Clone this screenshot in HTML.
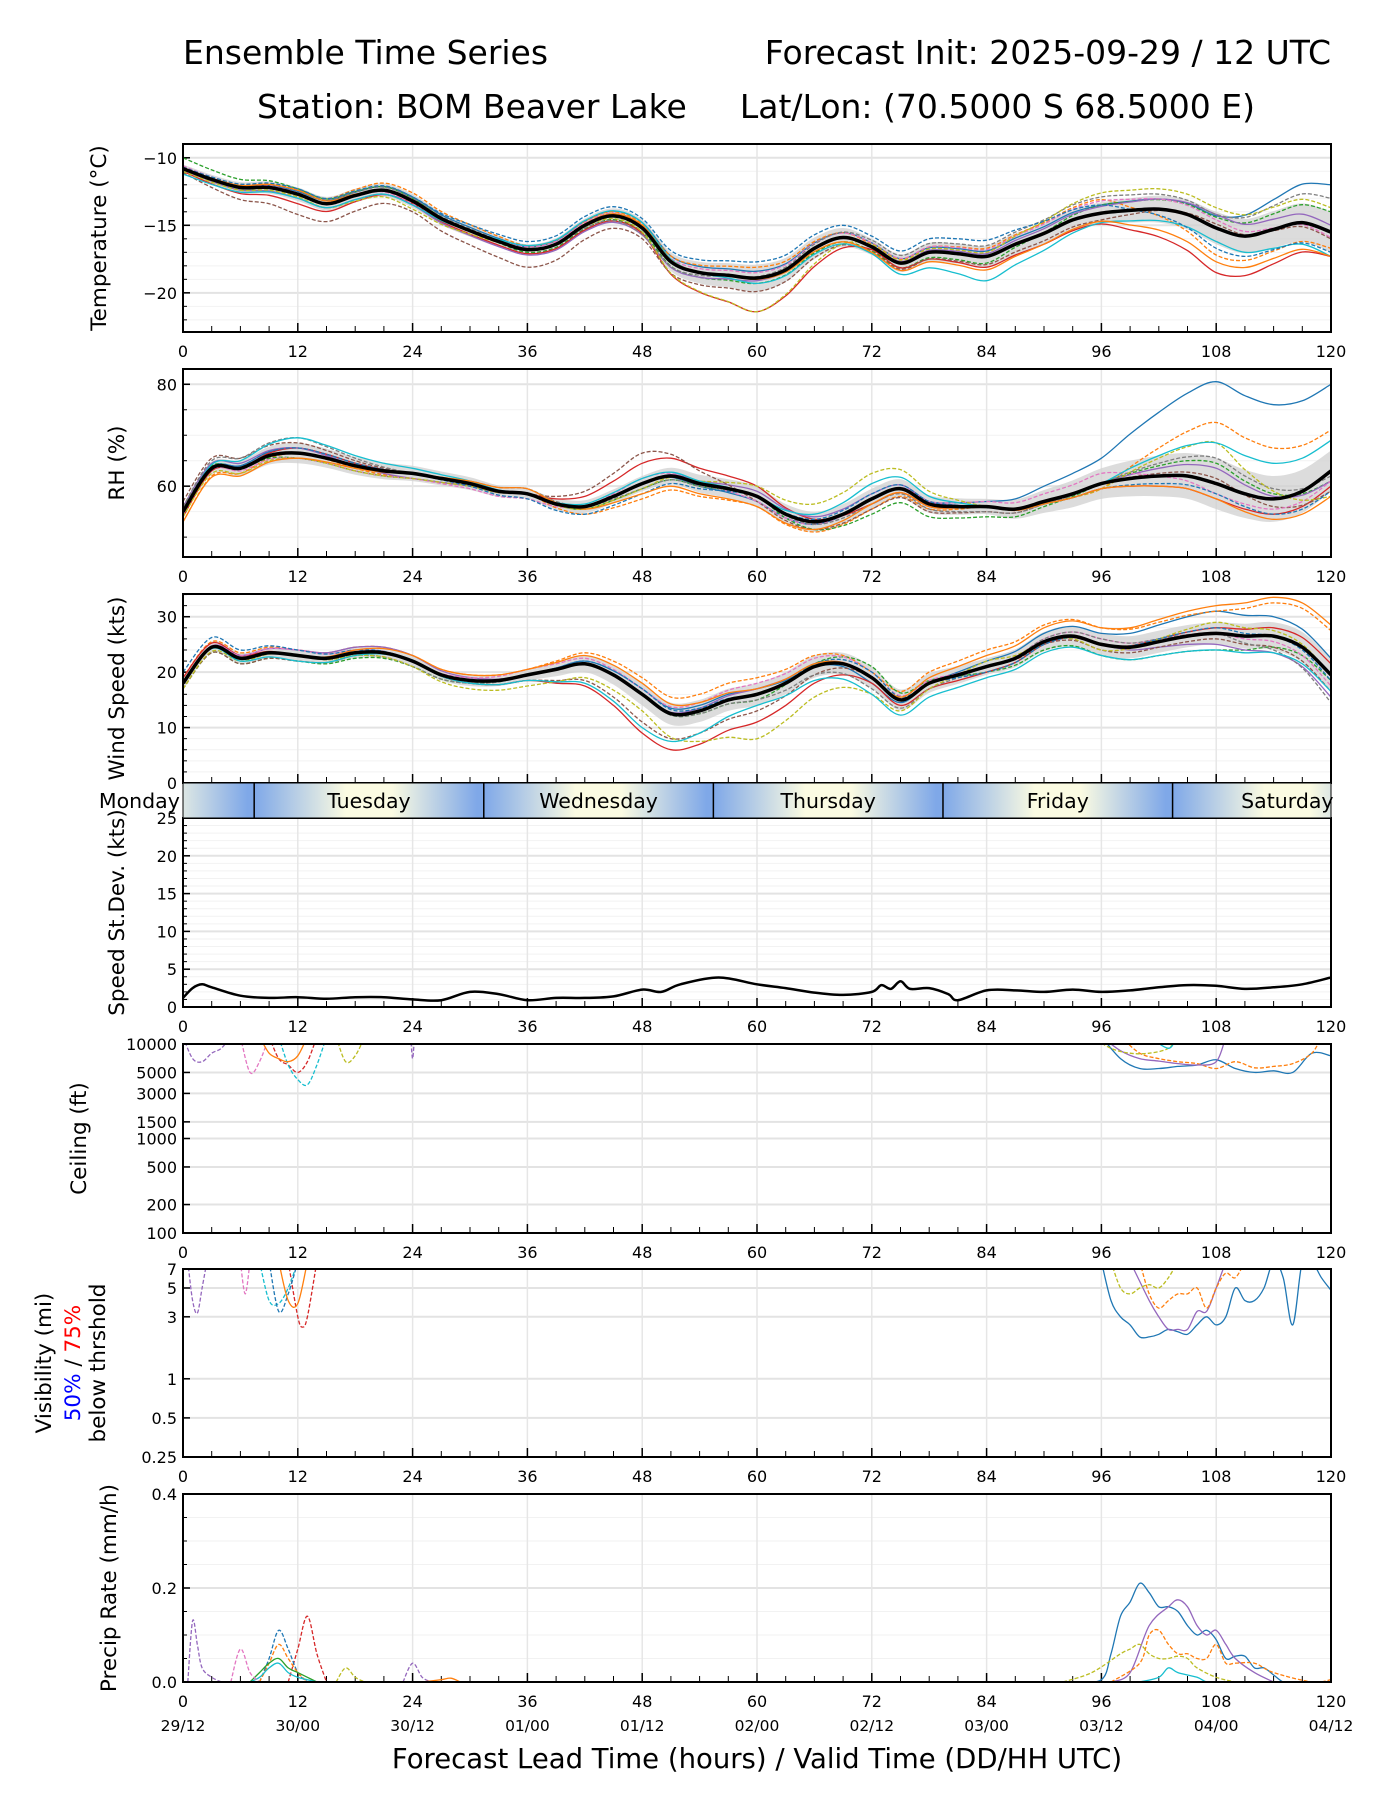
<!DOCTYPE html>
<html><head><meta charset="utf-8">
<style>
html,body{margin:0;padding:0;background:#fff;}
svg{display:block;font-family:"DejaVu Sans","Liberation Sans",sans-serif;}
</style></head>
<body>
<svg id="chart" xmlns="http://www.w3.org/2000/svg" width="1400" height="1800" viewBox="0 0 1400 1800">
<rect width="1400" height="1800" fill="#fff"/>
<text x="183" y="64" font-size="33">Ensemble Time Series</text>
<text x="1331" y="64" font-size="33" text-anchor="end">Forecast Init: 2025-09-29 / 12 UTC</text>
<text x="257" y="118" font-size="33">Station: BOM Beaver Lake</text>
<text x="1255" y="118" font-size="33" text-anchor="end">Lat/Lon: (70.5000 S 68.5000 E)</text>
<text x="757" y="1768" font-size="27.5" text-anchor="middle">Forecast Lead Time (hours) / Valid Time (DD/HH UTC)</text>
<g id="plots"></g>
</svg>
<script>
// ---------- data ----------
const hours3 = Array.from({length:41},(_,i)=>i*3);
const knotHours = [0,12,24,36,48,60,72,84,96,108,120];
const tempMean = [-10.8,-11.6,-12.2,-12.2,-12.7,-13.4,-12.8,-12.4,-13.2,-14.5,-15.4,-16.2,-16.8,-16.4,-15.0,-14.3,-15.2,-17.7,-18.5,-18.7,-18.9,-18.3,-16.7,-15.9,-16.6,-17.8,-17.0,-17.1,-17.3,-16.4,-15.6,-14.6,-14.1,-13.9,-13.8,-14.2,-15.2,-15.8,-15.3,-14.8,-15.5];
const tempSpread = [0.3,0.5,0.5,0.4,0.6,1.0,0.6,0.8,0.8,1.2,1.5];
const tempOff = [
[0,.2,.3,.2,.4,.5,.3,.4,.6,.9,3.5],
[.1,.3,.6,.3,.3,.8,.2,.6,1.0,-2,-1.2],
[.8,.4,.2,-.2,-.3,-.4,-.3,-.5,.6,.8,1.5],
[-.2,-.7,-.2,-.3,-.4,-2.5,-.2,-.8,-.8,-3.3,-1.8],
[-.1,-.3,-.3,-.4,-.5,-.2,.1,.2,.5,1.0,.5],
[-.3,-1.5,-.8,-1.3,-.8,-1.0,-.4,-.6,-.5,.3,-.5],
[.2,.1,-.2,.2,.2,.4,.3,.5,.9,.6,-.4],
[.1,.3,.2,.1,-.5,.1,.5,.8,1.2,1.0,2.5],
[-.2,-.2,-.6,.1,-.3,-2.5,.2,.3,1.5,1.5,1.8],
[-.4,-.3,-.3,.3,.4,-.4,-.5,-1.8,-.7,-1.0,-1.8],
[.1,.4,.3,.6,.7,1.2,.8,1.2,.6,-1.5,-1.5],
[0,.3,-.1,0,.2,-.1,-.4,-1.0,-.6,-2.5,-1.8]];
const rhMean = [55,63.5,63.5,66,66.5,65.5,64,63,62.5,61.5,60.5,59,58.5,56.5,56,58,60.5,62,60.5,59.5,58,54.5,53,54.5,57.5,59.5,56.5,56,56,55.5,57,58.5,60.5,61.5,62,62,60.5,58.5,57.5,59,63];
const rhSpread = [1,2,1.5,1,1.5,2,2,1.5,3,5,4];
const rhOff = [
[0,1,0,0,0,-1,0,1,5,20,17],
[-2,0,-1,0,-3,-2,-2,0,-1,12,8],
[1,-1,-1,0,-1,0,-3,-2,0,4,-2],
[-1,1,0,0,4,2,-1,0,-1,-3,-3],
[1,1,-1,0,0,1,1,0,0,3,-2],
[2,2,0,0,6,-1,-2,-1,0,1,-4],
[0,-1,-1,-1,1,-1,0,1,2,-2,-2],
[1,3,0,1,-1,0,-1,-1,0,5,-1],
[-1,-1,-1,0,-1,2,5,0,-1,8,-5],
[0,3,1,0,1,0,3,0,0,8,6],
[0,1,0,-1,-2,0,1,0,-1,-2,-4],
[-2,-1,0,1,-2,-2,-1,0,-1,-3,-5]];
const windMean = [18,24.5,22.5,23.5,23,22.5,23.5,23.5,22,19.5,18.5,18.5,19.5,20.5,21.5,19.5,16,12.5,13,15,16,18,21,21.5,19,15,18,19.5,21,22.5,25.5,26.5,25,24.5,25.5,26.5,27,26.5,26.5,24.5,19.5];
const windSpread = [1,1,1,1,2,2,2,1.5,2,2,3];
const windOff = [
[0,0,0,0,1,1,-1,1,2,4,3],
[1,1,1,1,3,3,1,3,3,4,8],
[-1,-1,-1,0,0,-1,2,-1,-2,-3,-1],
[1,0,0,-1,-7,-5,-1,-1,0,1,2],
[0,1,1,0,0,1,0,0,0,-2,-4],
[-1,-1,0,-1,-5,-3,0,0,-1,-1,-3],
[0,1,0,1,1,2,1,0,1,0,-2],
[0,0,-1,0,0,-1,-2,0,1,0,-5],
[-1,0,-1,-2,-3,-8,-3,1,-1,2,0],
[0,-1,0,-1,-6,-2,-3,-2,-2,-3,-3],
[2,1,0,0,1,0,1,-1,0,1,-1],
[0,0,1,1,2,1,0,2,3,5,9]];
const sdHours = [0,1,2,3,6,9,12,15,18,21,24,27,30,33,36,39,42,45,48,50,52,56,60,63,66,69,72,73,74,75,76,78,80,81,84,87,90,93,96,99,102,105,108,111,114,117,120];
const sdVals = [1.2,2.5,3,2.6,1.5,1.2,1.3,1.1,1.3,1.3,1.0,0.9,2.0,1.7,0.9,1.2,1.2,1.4,2.3,2.0,3.0,3.9,3.0,2.5,1.9,1.6,2.0,2.9,2.4,3.4,2.4,2.5,1.7,0.9,2.2,2.2,2.0,2.3,2.0,2.2,2.6,2.9,2.8,2.4,2.6,3.0,3.9];
const ceilHours = [[0,1,2,3,4,5],[9,10,11,12,13,14],[10,11,12,13,14,15],[6,7,8,9],[8,9,10,11,12,13],[16,17,18,19],[23.8,24,24.2],
[96,98,100,102,104,106,108,110,112,114,116,118,120],[98,100,102,104,106,108,110,112,114,116,118,119],[96,98,100,102,104,106,108,109],[95,97,99,101,103,104],[101,103,104,105]];
const ceilVals = [[12000,7000,6500,8000,9000,12000],[12000,7000,6000,5000,6500,12000],[12000,6000,4200,3700,6000,12000],[12000,5000,6500,12000],[12000,8000,7000,6500,7500,12000],[12000,6500,7500,12000],[12000,7000,12000],
[12000,7000,5500,5500,5800,6000,6800,5500,5000,5200,5000,8000,7500],[12000,8000,7000,6500,6200,5500,6500,5600,5800,6200,8000,12000],[12000,8500,7000,6600,6200,6000,6500,12000],[12000,9000,8000,8000,9000,12000],[12000,9000,12000,12000]];
const ceilStyle = [[4,1],[3,1],[9,1],[6,1],[1,0],[8,1],[4,1],[0,0],[1,1],[4,0],[8,1],[9,0]];
const visHours = [[0.5,1,1.5,2,2.5],[11,12,12.5,13,14],[8,9,10,11,12],[9,10,11,12],[6,6.5,7],[10,11,12,13],
[96,97,98,99,100,101,102,103,104,105,106,107,108,109,110,111,112,113,114,115,116,117,118,119,120],[99,101,102,103,104,105,106,107,108,109],[97,98,99,100,101,102,103,104],[100,101,102,103,104,105,106,107,108,109,110,111]];
const visVals = [[8,4,3.2,5,8],[8,3,2.5,3,8],[8,4,3.8,5,8],[8,3.3,4.5,8],[8,4.5,8],[8,4,3.8,8],
[8,4,3,2.6,2.1,2.1,2.2,2.4,2.3,2.2,2.6,3,2.6,3,5,4,4,5,8,6,2.6,8,8,6,4.8],[8,4,3,2.4,2.4,2.4,3.3,3.3,5,8],[8,5,4.5,5,5.3,5,6,8],[8,4.5,3.5,4,4.5,4.5,5,3.5,5,6.5,6,8]];
const visStyle = [[4,1],[3,1],[9,1],[0,1],[6,1],[1,0],[0,0],[4,0],[8,1],[1,1]];
const prHours = [[0.5,1,1.5,2,3,4],[11,12,13,14,15],[8,9,10,11,12,13],[8,9,10,11,12,13],[7,8,9,10,11,12,13,14],[7,8,9,10,11,12,13,14],[5,6,7,8],[16,17,18,19],[23,24,25,26],[25,27,28,29],
[93,96,97,98,99,100,101,102,103,104,105,106,107,108,109,110,111,112,113,114,115,116],[97,99,101,103,104,105,106,107,108,109,110,112,114],[97,100,101,102,103,104,105,106,107,108,109,110,112,114,118,120],[92,95,98,99,100,101,102,103,104,105,106,108,110],[100,102,103,104,106,107,108]];
const prVals = [[0,.13,.08,.03,.01,0],[0,.07,.14,.06,0],[0,.05,.11,.07,.02,0],[0,.04,.08,.05,.02,0],[0,.02,.04,.05,.03,.02,.01,0],[0,.01,.03,.04,.02,.01,.005,0],[0,.07,.02,0],[0,.03,.01,0],[0,.04,.01,0],[0,.005,.008,0],
[0,.005,.06,.14,.17,.21,.19,.16,.16,.15,.12,.1,.11,.09,.05,.055,.055,.03,.03,.015,0,0],[0,.02,.12,.16,.175,.16,.12,.1,.11,.08,.05,.02,0],[0,.04,.1,.11,.08,.06,.06,.05,.05,.08,.04,.04,.04,.02,0,.005],[0,.02,.06,.07,.08,.06,.05,.05,.055,.05,.03,.01,0],[0,.01,.03,.02,.01,0,0]];
const prStyle = [[4,1],[3,1],[0,1],[1,1],[2,0],[9,0],[6,1],[8,1],[4,1],[1,0],[0,0],[4,0],[1,1],[8,1],[9,0]];
const dayNames = ["Monday","Tuesday","Wednesday","Thursday","Friday","Saturday"];
const dateLabels = ["29/12","30/00","30/12","01/00","01/12","02/00","02/12","03/00","03/12","04/00","04/12"];
const xTicks = [0,12,24,36,48,60,72,84,96,108,120];

// ---------- helpers ----------
const NS="http://www.w3.org/2000/svg";
const COLORS=["#1f77b4","#ff7f0e","#2ca02c","#d62728","#9467bd","#8c564b","#e377c2","#7f7f7f","#bcbd22","#17becf"];
const memberStyle=[[0,0],[1,1],[2,1],[3,0],[4,0],[5,1],[6,1],[7,1],[8,1],[9,0],[0,1],[1,0]];
const X0=183,X1=1331;
const root=document.getElementById('plots');
function xs(h){return X0+(h/120)*(X1-X0);}
function mk(tag,attrs,parent){const e=document.createElementNS(NS,tag);for(const k in attrs)e.setAttribute(k,attrs[k]);(parent||root).appendChild(e);return e;}
function scaleY(p,v){
  if(p.log){return p.bot-(Math.log(v)-Math.log(p.min))/(Math.log(p.max)-Math.log(p.min))*(p.bot-p.top);}
  return p.bot-(v-p.min)/(p.max-p.min)*(p.bot-p.top);
}
function smoothPath(pts){
  if(pts.length<2)return "";
  let d="M"+pts[0][0].toFixed(1)+","+pts[0][1].toFixed(1);
  for(let i=0;i<pts.length-1;i++){
    const p0=pts[Math.max(0,i-1)],p1=pts[i],p2=pts[i+1],p3=pts[Math.min(pts.length-1,i+2)];
    const c1x=p1[0]+(p2[0]-p0[0])/6,c1y=p1[1]+(p2[1]-p0[1])/6;
    const c2x=p2[0]-(p3[0]-p1[0])/6,c2y=p2[1]-(p3[1]-p1[1])/6;
    d+="C"+c1x.toFixed(1)+","+c1y.toFixed(1)+" "+c2x.toFixed(1)+","+c2y.toFixed(1)+" "+p2[0].toFixed(1)+","+p2[1].toFixed(1);
  }
  return d;
}
function knotAt(arr,h){const k=h/12,i=Math.min(9,Math.floor(k)),f=k-i;return arr[i]*(1-f)+arr[i+1]*f;}

const panels=[
 {name:"temperature",top:144,bot:332,min:-22.9,max:-8.98,major:[-10,-15,-20],minorStep:1,label:"Temperature (°C)",lx:106,fmt:v=>String(v).replace("-","\u2212")},
 {name:"rh",top:369,bot:557,min:46.1,max:83.0,major:[60,80],minorStep:5,label:"RH (%)",lx:124,fmt:v=>String(v)},
 {name:"wind",top:594,bot:783,min:0,max:34.1,major:[0,10,20,30],minorStep:2,label:"Wind Speed (kts)",lx:124,fmt:v=>String(v),noX:true},
 {name:"speed-stdev",top:818,bot:1007,min:0,max:25,major:[0,5,10,15,20,25],minorStep:1,label:"Speed St.Dev. (kts)",lx:124,fmt:v=>String(v)},
 {name:"ceiling",top:1044,bot:1233,min:100,max:10000,log:true,major:[100,200,500,1000,1500,3000,5000,10000],label:"Ceiling (ft)",lx:86,fmt:v=>String(v)},
 {name:"visibility",top:1269,bot:1457,min:0.25,max:7,log:true,major:[0.25,0.5,1,3,5,7],label:null,fmt:v=>String(v)},
 {name:"precip",top:1494,bot:1682,min:0,max:0.4,major:[0,0.2,0.4],minorStep:0.05,label:"Precip Rate (mm/h)",lx:116,fmt:v=>v.toFixed(1)}
];

panels.forEach((p,pi)=>{
  const g=mk('g',{});
  
  
  const cid='clip'+pi;
  const cp=mk('clipPath',{id:cid},g);mk('rect',{x:X0,y:p.top,width:X1-X0,height:p.bot-p.top},cp);
  if(p.minorStep){
    for(let v=Math.ceil(p.min/p.minorStep)*p.minorStep;v<=p.max+1e-9;v+=p.minorStep){
      const y=scaleY(p,v);mk('line',{x1:X0,x2:X1,y1:y,y2:y,stroke:"#f2f2f2","stroke-width":1},g);
      mk('line',{x1:X0,x2:X0+4,y1:y,y2:y,stroke:"#000","stroke-width":1},g);
    }
  }
  p.major.forEach(v=>{const y=scaleY(p,v);mk('line',{x1:X0,x2:X1,y1:y,y2:y,stroke:"#e3e3e3","stroke-width":2},g);
    mk('line',{x1:X0,x2:X0+7,y1:y,y2:y,stroke:"#000","stroke-width":1.5},g);
    const t=mk('text',{x:X0-6,y:y+6,"font-size":16,"text-anchor":"end"},g);t.textContent=p.fmt(v);
    });
  xTicks.forEach(h=>{const x=xs(h);mk('line',{x1:x,x2:x,y1:p.top,y2:p.bot,stroke:"#e6e6e6","stroke-width":1.5},g);});
  for(let h=0;h<=120;h+=3){const x=xs(h);const L=(h%12===0)?9:6;mk('line',{x1:x,x2:x,y1:p.bot,y2:p.bot-L,stroke:"#000","stroke-width":h%12===0?1.5:1},g);}
  if(!p.noX){xTicks.forEach(h=>{const t=mk('text',{x:xs(h),y:p.bot+25,"font-size":16,"text-anchor":"middle"},g);t.textContent=String(h);
    });}
  if(p.label){const cy=(p.top+p.bot)/2;const t=mk('text',{x:p.lx,y:cy,"font-size":21.5,"text-anchor":"middle",transform:`rotate(-90 ${p.lx} ${cy})`},g);t.textContent=p.label;
    }
  p.g=mk('g',{"clip-path":`url(#${cid})`},g);
  p.frame=g;
});

function drawEnsemble(p,mean,spread,offs){
  const up=hours3.map((h,i)=>[xs(h),scaleY(p,mean[i]+knotAt(spread,h))]);
  const lo=hours3.map((h,i)=>[xs(h),scaleY(p,mean[i]-knotAt(spread,h))]).reverse();
  const band=mk('path',{d:smoothPath(up)+"L"+smoothPath(lo).slice(1)+"Z",fill:"#d0d0d0","fill-opacity":0.75},p.g);
  
  offs.forEach((o,mi)=>{
    const pts=hours3.map((h,i)=>[xs(h),scaleY(p,mean[i]+knotAt(o,h))]);
    const st=memberStyle[mi];
    const e=mk('path',{d:smoothPath(pts),fill:"none",stroke:COLORS[st[0]],"stroke-width":1.3,"stroke-dasharray":st[1]?"4,2":"none"},p.g);
    
  });
  const m=mk('path',{d:smoothPath(hours3.map((h,i)=>[xs(h),scaleY(p,mean[i])])),fill:"none",stroke:"#000","stroke-width":3.5},p.g);
  
}
drawEnsemble(panels[0],tempMean,tempSpread,tempOff);
drawEnsemble(panels[1],rhMean,rhSpread,rhOff);
drawEnsemble(panels[2],windMean,windSpread,windOff);
{const p=panels[3];const e=mk('path',{d:smoothPath(sdHours.map((h,i)=>[xs(h),scaleY(p,sdVals[i])])),fill:"none",stroke:"#000","stroke-width":2.5},p.g);
 }
function drawSeg(p,H,V,S,nm){
  H.forEach((hs,k)=>{const pts=hs.map((h,i)=>[xs(h),scaleY(p,Math.max(V[k][i],p.log?1e-3:0))]);
    const e=mk('path',{d:smoothPath(pts),fill:"none",stroke:COLORS[S[k][0]],"stroke-width":1.3,"stroke-dasharray":S[k][1]?"4,2":"none"},p.g);
    });
}
drawSeg(panels[4],ceilHours,ceilVals,ceilStyle,'ceiling-member-line');
drawSeg(panels[5],visHours,visVals,visStyle,'visibility-member-line');
drawSeg(panels[6],prHours,prVals,prStyle,'precip-member-line');

panels.forEach(p=>{mk('rect',{x:X0,y:p.top,width:X1-X0,height:p.bot-p.top,fill:"none",stroke:"#000","stroke-width":2},p.frame);});

{const cy=1363;const lines=[[51,[["Visibility (mi)","#000"]]],[80,[["50%","#0000ff"],[" / ","#000"],["75%","#ff0000"]]],[105,[["below thrshold","#000"]]]];
 lines.forEach(([x,parts])=>{const t=mk('text',{x:x,y:cy,"font-size":21.5,"text-anchor":"middle",transform:`rotate(-90 ${x} ${cy})`});
  
  parts.forEach(([s,c])=>{const ts=mk('tspan',{fill:c},t);ts.textContent=s;});});}

// day bar
{const top=783,bot=818;const defs=mk('defs',{});
 const first=7.44;const labels=[];
 for(let d=0;d<6;d++){
   const hs=first+24*(d-1),he=hs+24;
   const gid='dg'+d;
   const lg=mk('linearGradient',{id:gid,gradientUnits:"userSpaceOnUse",x1:xs(hs),x2:xs(he),y1:0,y2:0},defs);
   [[0,"#7fa8e8"],[0.4,"#fbfbe2"],[0.6,"#fbfbe2"],[0.97,"#7fa8e8"],[1,"#7fa8e8"]].forEach(([o,c])=>mk('stop',{offset:o,"stop-color":c},lg));
   const a=Math.max(0,hs),b=Math.min(120,he);
   const r=mk('rect',{x:xs(a),y:top,width:xs(b)-xs(a),height:bot-top,fill:`url(#${gid})`});
   
   labels.push([xs((hs+he)/2),dayNames[d]]);
   if(d>0){mk('line',{x1:xs(hs),x2:xs(hs),y1:top,y2:bot,stroke:"#000","stroke-width":1.5});}
 }
 labels.forEach(([x,s])=>{const t=mk('text',{x:x,y:top+25,"font-size":20.5,"text-anchor":"middle"});t.textContent=s;
   });
 mk('rect',{x:X0,y:top,width:X1-X0,height:bot-top,fill:"none",stroke:"#000","stroke-width":1});
}
xTicks.forEach((h,i)=>{const t=mk('text',{x:xs(h),y:1731,"font-size":15.5,"text-anchor":"middle"});t.textContent=dateLabels[i];
 });
</script>
</body></html>
